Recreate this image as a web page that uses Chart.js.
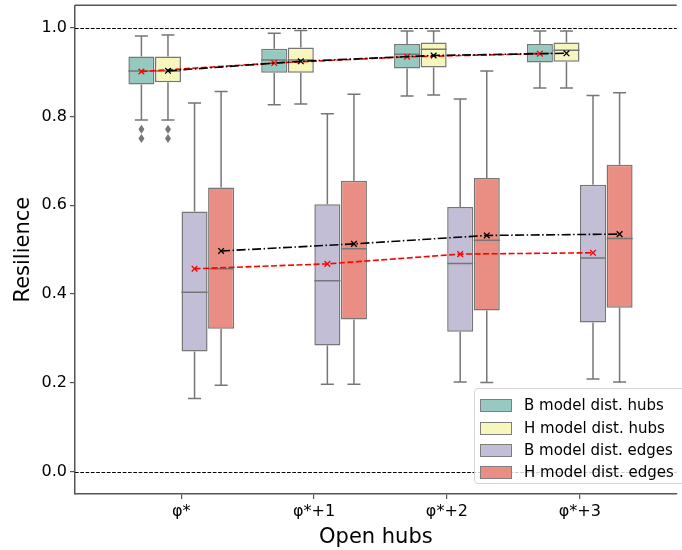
<!DOCTYPE html>
<html>
<head>
<meta charset="utf-8">
<script src="https://cdn.jsdelivr.net/npm/chart.js@4"></script>
<style>
  body { margin: 0; background: #fff; overflow: hidden; }
  #wrap { position: relative; width: 682px; height: 550px; }
  #legend {
    position: absolute; left: 474px; top: 388px; width: 230px; height: 96px;
    border: 1px solid #d6d6d6; border-radius: 4px; background: rgba(255,255,255,0.8);
    font: 15px "DejaVu Sans", sans-serif; color: #000; box-sizing: border-box;
  }
  .row { position: absolute; left: 0; height: 20px; line-height: 20px; white-space: nowrap; }
  .patch { position: absolute; left: 5px; top: 4px; width: 30px; height: 11px; border: 1px solid #7f7f7f; }
  .lbl { position: absolute; left: 49px; top: 0; }
</style>
</head>
<body>
<div id="wrap">
  <canvas id="grafico" width="682" height="550"></canvas>
  <div id="legend"></div>
</div>
<script>
// Datos
const categorias = ["φ*", "φ*+1", "φ*+2", "φ*+3"];
const nombres = ["B model dist. hubs", "H model dist. hubs", "B model dist. edges", "H model dist. edges"];
const colores = ["#96cac1", "#f6f6bd", "#c1bed6", "#ea8e83"];
const desplazamiento = [-0.3, -0.1, 0.1, 0.3];

// [bigote inferior, q1, mediana, q3, bigote superior] por categoria
const bHubs = [[0.792, 0.872, 0.902, 0.935, 0.981], [0.826, 0.898, 0.927, 0.952, 0.987], [0.846, 0.908, 0.940, 0.963, 0.992], [0.864, 0.921, 0.942, 0.963, 0.992]];
const hHubs = [[0.792, 0.877, 0.902, 0.935, 0.983], [0.828, 0.898, 0.927, 0.955, 0.993], [0.848, 0.910, 0.951, 0.966, 0.992], [0.864, 0.923, 0.949, 0.966, 0.992]];
const bEdges = [[0.165, 0.271, 0.404, 0.586, 0.830], [0.197, 0.284, 0.430, 0.602, 0.806], [0.202, 0.315, 0.469, 0.596, 0.839], [0.209, 0.336, 0.481, 0.646, 0.847]];
const hEdges = [[0.195, 0.322, 0.457, 0.640, 0.856], [0.197, 0.343, 0.502, 0.655, 0.850], [0.201, 0.363, 0.521, 0.661, 0.902], [0.202, 0.369, 0.525, 0.691, 0.853]];

// atipicos por categoria
const bHubsAtipicos = [[0.771, 0.750], [], [], []];
const hHubsAtipicos = [[0.771, 0.750], [], [], []];

// medias
const bHubsMedia = [0.901, 0.920, 0.934, 0.941];
const hHubsMedia = [0.9025, 0.924, 0.937, 0.942];
const bEdgesMedia = [0.457, 0.468, 0.490, 0.493];
const hEdgesMedia = [0.497, 0.513, 0.532, 0.535];

const lineasRef = [1.0, 0.0];
const yTicks = [0.0, 0.2, 0.4, 0.6, 0.8, 1.0];

const cajas = [bHubs, hHubs, bEdges, hEdges];
const atipicos = [bHubsAtipicos, hHubsAtipicos, [[], [], [], []], [[], [], [], []]];
const medias = [bHubsMedia, hHubsMedia, bEdgesMedia, hEdgesMedia];
const borde = "#767676";
const fuente = "'DejaVu Sans', sans-serif";

// Datasets de cajas (barras flotantes q1..q3)
const datasetsCajas = cajas.map((serie, s) => ({
    type: 'bar',
    label: nombres[s],
    data: serie.map((b, i) => ({ x: i + desplazamiento[s], y: [b[1], b[3]] })),
    backgroundColor: colores[s],
    borderColor: borde,
    borderWidth: 1.5,
    borderSkipped: false,
    grouped: false,
    categoryPercentage: 1,
    barPercentage: 0.98,
    order: 10
}));

// Lineas de medias
const estilosMedia = [
    { color: "#ff0000", dash: [6, 2.5] },
    { color: "#000000", dash: [9, 2.5, 1.5, 2.5] },
    { color: "#ff0000", dash: [6, 2.5] },
    { color: "#000000", dash: [9, 2.5, 1.5, 2.5] }
];
const datasetsMedias = medias.map((m, s) => ({
    type: 'line',
    label: 'media ' + nombres[s],
    data: m.map((v, i) => ({ x: i + desplazamiento[s], y: v })),
    borderColor: estilosMedia[s].color,
    borderDash: estilosMedia[s].dash,
    borderWidth: 1.6,
    pointStyle: 'crossRot',
    pointRadius: 4,
    pointBorderWidth: 1.3,
    pointBorderColor: estilosMedia[s].color,
    fill: false,
    tension: 0,
    order: s < 2 ? 2 - s : 4 - s
}));

// Bigotes, medianas y atipicos
const extrasCaja = {
    id: 'extrasCaja',
    beforeDatasetsDraw(chart) {
        const { ctx, chartArea, scales: { y } } = chart;
        ctx.save();
        ctx.strokeStyle = "#000";
        ctx.lineWidth = 1;
        ctx.setLineDash([3.7, 1.6]);
        lineasRef.forEach(v => {
            const py = Math.round(y.getPixelForValue(v)) + 0.5;
            ctx.beginPath();
            ctx.moveTo(chartArea.left, py);
            ctx.lineTo(chartArea.right, py);
            ctx.stroke();
        });
        ctx.restore();
    },
    afterDatasetDraw(chart, args) {
        const serie = cajas[args.index];
        if (!serie) return;
        const { ctx, scales: { y } } = chart;
        ctx.save();
        ctx.strokeStyle = borde;
        ctx.fillStyle = borde;
        ctx.lineWidth = 1.5;
        args.meta.data.forEach((bar, i) => {
            const b = serie[i];
            const cx = bar.x, w = bar.width;
            const p = b.map(v => y.getPixelForValue(v));
            ctx.beginPath();
            ctx.moveTo(cx, p[1]); ctx.lineTo(cx, p[0]);
            ctx.moveTo(cx - w / 4, p[0]); ctx.lineTo(cx + w / 4, p[0]);
            ctx.moveTo(cx, p[3]); ctx.lineTo(cx, p[4]);
            ctx.moveTo(cx - w / 4, p[4]); ctx.lineTo(cx + w / 4, p[4]);
            ctx.moveTo(cx - w / 2, p[2]); ctx.lineTo(cx + w / 2, p[2]);
            ctx.stroke();
            atipicos[args.index][i].forEach(v => {
                const py = y.getPixelForValue(v);
                ctx.beginPath();
                ctx.moveTo(cx, py - 4.5);
                ctx.lineTo(cx + 3, py);
                ctx.lineTo(cx, py + 4.5);
                ctx.lineTo(cx - 3, py);
                ctx.closePath();
                ctx.fill();
            });
        });
        ctx.restore();
    },
    afterDraw(chart) {
        const { ctx, chartArea } = chart;
        ctx.save();
        ctx.strokeStyle = "#555";
        ctx.lineWidth = 1.5;
        ctx.beginPath();
        ctx.moveTo(chartArea.left, chartArea.top);
        ctx.lineTo(chartArea.right, chartArea.top);
        ctx.stroke();
        ctx.restore();
    }
};

const grafico = new Chart(document.querySelector("#grafico"), {
    type: 'bar',
    data: { datasets: [...datasetsCajas, ...datasetsMedias] },
    plugins: [extrasCaja],
    options: {
        responsive: false,
        animation: false,
        layout: { padding: { top: 4, right: 0, left: 0, bottom: 0 } },
        plugins: { legend: { display: false }, tooltip: { enabled: false } },
        scales: {
            x: {
                type: 'linear',
                min: -0.8,
                max: 3.73,
                offset: false,
                afterFit: s => { s.height = 56; s.paddingLeft = 0; s.paddingRight = 0; },
                afterBuildTicks: s => { s.ticks = categorias.map((c, i) => ({ value: i })); },
                ticks: {
                    callback: v => categorias[v],
                    color: "#000",
                    font: { family: fuente, size: 16 },
                    padding: 3,
                    maxRotation: 0,
                    autoSkip: false
                },
                grid: { offset: false, drawOnChartArea: false, tickLength: 5, color: "#555", lineWidth: 1.2 },
                border: { color: "#555", width: 1.5 },
                title: { display: true, text: "Open hubs", color: "#000", font: { family: fuente, size: 21 }, padding: { top: 0, bottom: 0 } }
            },
            y: {
                min: -0.05,
                max: 1.05,
                afterFit: s => { s.width = 75; s.paddingTop = 0; s.paddingBottom = 0; },
                afterBuildTicks: s => { s.ticks = yTicks.map(v => ({ value: v })); },
                ticks: {
                    callback: v => v.toFixed(1),
                    color: "#000",
                    font: { family: fuente, size: 16 },
                    padding: 3
                },
                grid: { drawOnChartArea: false, tickLength: 5, color: "#555", lineWidth: 1.2 },
                border: { color: "#555", width: 1.5 },
                title: { display: true, text: "Resilience", color: "#000", font: { family: fuente, size: 21 }, padding: { top: 11, bottom: 0 } }
            }
        }
    }
});

// Leyenda
const leyenda = document.querySelector("#legend");
const filasY = [6, 28.5, 51, 73];
nombres.forEach((n, s) => {
    const fila = document.createElement("div");
    fila.className = "row";
    fila.style.top = filasY[s] + "px";
    fila.innerHTML = `<span class="patch" style="background:${colores[s]}"></span><span class="lbl">${n}</span>`;
    leyenda.appendChild(fila);
});
</script>
</body>
</html>
